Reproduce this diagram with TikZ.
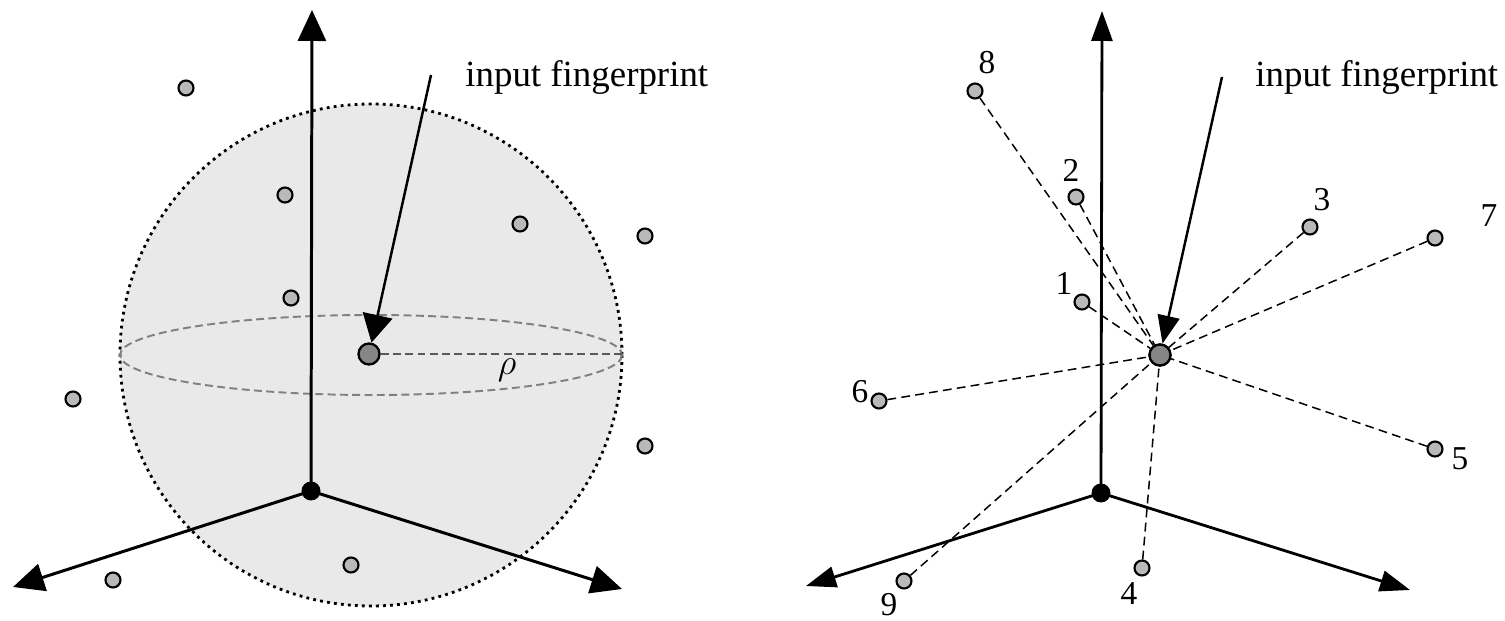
\documentclass[tikz,border=0pt]{standalone}
\usepackage{fontspec}
\setmainfont{Liberation Serif}
\usepackage{tikz}
\usetikzlibrary{arrows.meta, calc}
\tikzstyle{axis} = [line width=1.7pt, -{Triangle[length=0.62cm, width=0.56cm]}]
\tikzstyle{thinaxis} = [line width=1.6pt, -{Triangle[length=0.6cm, width=0.42cm]}]
\tikzstyle{pointer} = [line width=1.4pt, -{Triangle[length=0.56cm, width=0.6cm]}]
\tikzstyle{thinpointer} = [line width=1.4pt, -{Triangle[length=0.56cm, width=0.44cm]}]
\tikzstyle{point} = [circle, draw=black, line width=1.2pt, fill=gray!55, minimum size=0.3cm, inner sep=0pt]
\tikzstyle{query} = [circle, draw=black, line width=1.3pt, fill=gray!95, minimum size=0.42cm, inner sep=0pt]
\tikzstyle{origin} = [circle, fill=black, minimum size=0.38cm, inner sep=0pt]
\tikzstyle{link} = [line width=0.85pt, dash pattern=on 5pt off 3pt]
\tikzstyle{tag} = [font=\fontsize{19}{22}\selectfont, inner sep=0pt]
\tikzstyle{caption} = [font=\fontsize{21}{25}\selectfont, inner sep=0pt, anchor=west]

\begin{document}
\begin{tikzpicture}[x=0.02cm, y=-0.02cm]
    \useasboundingbox (0,0) rectangle (1505,621);

    % Esfera de busqueda
    \draw [fill=gray!17, line width=1.6pt, dash pattern=on 1.6pt off 2.4pt] (371,355) circle [radius=251];
    \draw [gray, line width=1.1pt, dash pattern=on 4.5pt off 2.5pt] (371,355) ellipse [x radius=251, y radius=40];

    % Ejes (izquierda)
    \node (o1) [origin] at (311,491) {};
    \coordinate (z1) at (312,10);
    \coordinate (xl1) at (13,587);
    \coordinate (xr1) at (622,589);
    \draw [axis] (o1.center) -- (z1);
    \draw [axis] (o1.center) -- (xl1);
    \draw [axis] (o1.center) -- (xr1);

    % Huellas de la base (izquierda)
    \node (a1) [point] at (186,88) {};
    \node (a2) [point] at (285,195) {};
    \node (a3) [point] at (520,224) {};
    \node (a4) [point] at (645,236) {};
    \node (a5) [point] at (291,298) {};
    \node (a6) [point] at (73,399) {};
    \node (a7) [point] at (645,446) {};
    \node (a8) [point] at (351,565) {};
    \node (a9) [point] at (113,580) {};

    % Huella de entrada y radio
    \node (c1) [query] at (369,354) {};
    \coordinate (r1) at (622,354);
    \draw [gray!70!black, line width=1.1pt, dash pattern=on 4.5pt off 2.5pt] (c1) -- (r1);
    \node (rho1) at (507,370) {\fontsize{22}{25}\selectfont$\rho$};
    \coordinate (f1) at (431,75);
    \draw [pointer] (f1) -- (c1);
    \node (t1) [caption] at (465,77) {input fingerprint};

    % Ejes (derecha)
    \node (o2) [origin] at (1101,493) {};
    \coordinate (z2) at (1102,11);
    \coordinate (xl2) at (806,586);
    \coordinate (xr2) at (1410,590);
    \draw [thinaxis] (o2.center) -- (z2);
    \draw [thinaxis] (o2.center) -- (xl2);
    \draw [thinaxis] (o2.center) -- (xr2);

    % Vecinos ordenados (derecha)
    \node (c2) [query] at (1160,355) {};
    \node (p1) [point] at (1082,302) {};
    \node (p2) [point] at (1076,197) {};
    \node (p3) [point] at (1310,227) {};
    \node (p4) [point] at (1142,568) {};
    \node (p5) [point] at (1435,449) {};
    \node (p6) [point] at (879,401) {};
    \node (p7) [point] at (1435,238) {};
    \node (p8) [point] at (975,91) {};
    \node (p9) [point] at (904,581) {};
    \foreach \i in {1,...,9}
        \draw [link] (p\i) -- (c2);
    \node (n1) [tag] at (1064,283) {1};
    \node (n2) [tag] at (1071,170) {2};
    \node (n3) [tag] at (1322,200) {3};
    \node (n4) [tag] at (1129,594) {4};
    \node (n5) [tag] at (1460,459) {5};
    \node (n6) [tag] at (860,392) {6};
    \node (n7) [tag] at (1489,216) {7};
    \node (n8) [tag] at (987,63) {8};
    \node (n9) [tag] at (889,605) {9};
    \node (c2b) [query] at (1160,355) {};

    % Huella de entrada (derecha)
    \coordinate (f2) at (1222,77);
    \draw [thinpointer] (f2) -- (c2b);
    \node (t2) [caption] at (1255,77) {input fingerprint};
\end{tikzpicture}
\end{document}
